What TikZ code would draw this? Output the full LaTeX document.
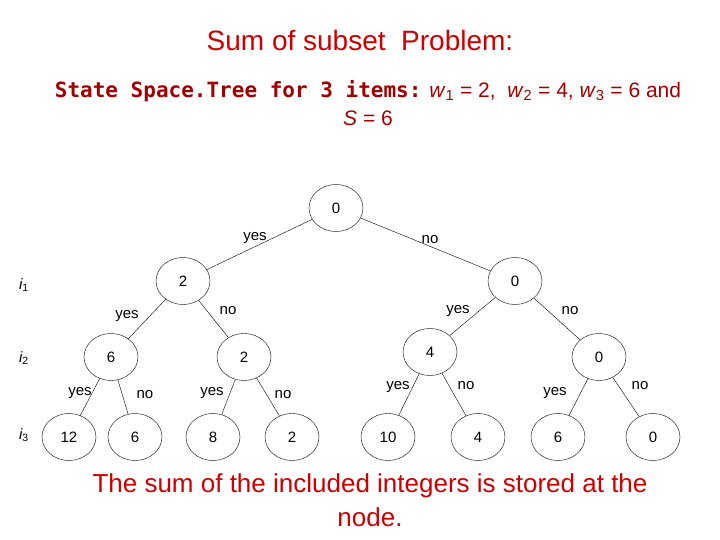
\documentclass[tikz,border=0pt]{standalone}
\usepackage{fontspec}
\setmainfont{Liberation Sans}
\newfontfamily\comic{DejaVu Sans Mono}
\usetikzlibrary{shapes.geometric}
\definecolor{tred}{RGB}{204,0,0}
\definecolor{sred}{RGB}{160,0,0}
\begin{document}
\begin{tikzpicture}[x=1pt,y=-1pt,
  nd/.style={draw,ellipse,minimum width=54pt,minimum height=47pt,inner sep=0pt,font=\fontsize{15}{15}\selectfont},
  lb/.style={font=\fontsize{15}{15}\selectfont},
  lv/.style={font=\fontsize{15}{15}\selectfont\itshape}]
\useasboundingbox (0,0) rectangle (720,540);
\node[text=tred,font=\fontsize{28}{28}\selectfont] (t) at (360,40) {Sum of subset\ \ Problem:};
\node[text=sred,font=\fontsize{21}{28}\selectfont,align=center] (s) at (368,103)
 {{\comic\bfseries State Space.Tree for 3 items:} \textit{w}\textsubscript{1} = 2,\ \ \textit{w}\textsubscript{2} = 4, \textit{w}\textsubscript{3} = 6 and\\ \textit{S} = 6};
\node[nd] (r) at (336,208) {0};
\node[nd] (a) at (183,281) {2};
\node[nd] (b) at (515,281) {0};
\node[nd] (a1) at (111,357) {6};
\node[nd] (a2) at (244,357) {2};
\node[nd] (b1) at (430,352) {4};
\node[nd] (b2) at (599,357) {0};
\node[nd] (c1) at (69,437) {12};
\node[nd] (c2) at (135,437) {6};
\node[nd] (c3) at (213,437) {8};
\node[nd] (c4) at (292,437) {2};
\node[nd] (c5) at (388,437) {10};
\node[nd] (c6) at (478,437) {4};
\node[nd] (c7) at (558,437) {6};
\node[nd] (c8) at (653,437) {0};
\foreach \p/\c in {r/a,r/b,a/a1,a/a2,b/b1,b/b2,a1/c1,a1/c2,a2/c3,a2/c4,b1/c5,b1/c6,b2/c7,b2/c8}
  \draw (\p) -- (\c);
\node[lb] (l1) at (255,238) {yes}; \node[lb] (l2) at (430,240) {no};
\node[lb] (l3) at (127,316) {yes}; \node[lb] (l4) at (228,311) {no};
\node[lb] (l5) at (458,311) {yes}; \node[lb] (l6) at (570,311) {no};
\node[lb] (l7) at (80,393) {yes}; \node[lb] (l8) at (145,395) {no};
\node[lb] (l9) at (212,393) {yes}; \node[lb] (l10) at (283,395) {no};
\node[lb] (l11) at (398,387) {yes}; \node[lb] (l12) at (466,386) {no};
\node[lb] (l13) at (555,393) {yes}; \node[lb] (l14) at (640,386) {no};
\node[lv] (i1) at (24,285) {i\textsubscript{\upshape 1}};
\node[lv] (i2) at (24,358) {i\textsubscript{\upshape 2}};
\node[lv] (i3) at (24,435) {i\textsubscript{\upshape 3}};
\node[text=tred,font=\fontsize{26}{34}\selectfont,align=center] (bt) at (370,500)
 {The sum of the included integers is stored at the\\node.};
\end{tikzpicture}
\end{document}
